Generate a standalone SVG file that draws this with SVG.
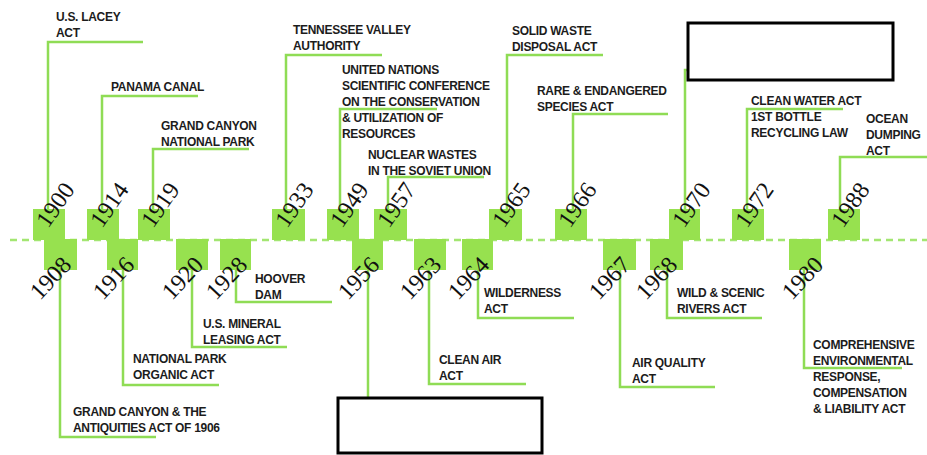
<svg xmlns="http://www.w3.org/2000/svg" width="927" height="455" viewBox="0 0 927 455">
<style>
.sq{fill:#97e14f}
.c{stroke:#8fdc55;stroke-width:2.5;fill:none}
.axis{stroke:#a3e672;stroke-width:2.5;stroke-dasharray:7 5;fill:none}
.yr{font-family:"Liberation Serif",serif;font-size:24px;fill:#111}
.lb{font-family:"Liberation Sans",Arial,sans-serif;font-size:12px;font-weight:bold;fill:#1c1c1c;letter-spacing:-0.3px}
.box{fill:#fff;stroke:#000;stroke-width:3}
</style>
<rect width="927" height="455" fill="#fff"/>
<line class="axis" x1="10" y1="240" x2="927" y2="240"/>
<g id="connectors">
<path class="c" d="M48 209V42H143"/>
<path class="c" d="M102 209V96H198"/>
<path class="c" d="M153 209V149H249"/>
<path class="c" d="M286 209V55H382"/>
<path class="c" d="M340 209V109H437"/>
<path class="c" d="M388 209V177H484"/>
<path class="c" d="M507 209V55H603"/>
<path class="c" d="M573 209V114H668"/>
<path class="c" d="M685 209V70H688"/>
<path class="c" d="M747 209V109H843"/>
<path class="c" d="M840 209V157H927"/>
<path class="c" d="M60 270V437H156"/>
<path class="c" d="M123 270V385H219"/>
<path class="c" d="M192 270V347H287"/>
<path class="c" d="M236 270V302H332"/>
<path class="c" d="M368 270V398"/>
<path class="c" d="M429 270V384H526"/>
<path class="c" d="M478 270V318H574"/>
<path class="c" d="M620 270V387H715"/>
<path class="c" d="M667 270V318H762"/>
<path class="c" d="M804 270V368H902"/>
</g>
<g id="n1900"><rect class="sq" x="33" y="209" width="32" height="31"/><text class="yr" transform="translate(48 229) rotate(-55)">1900</text><text class="lb" x="56" y="21">U.S. LACEY</text><text class="lb" x="56" y="37">ACT</text></g>
<g id="n1914"><rect class="sq" x="87" y="209" width="32" height="31"/><text class="yr" transform="translate(102 229) rotate(-55)">1914</text><text class="lb" x="111" y="91">PANAMA CANAL</text></g>
<g id="n1919"><rect class="sq" x="138" y="209" width="32" height="31"/><text class="yr" transform="translate(153 229) rotate(-55)">1919</text><text class="lb" x="161" y="130">GRAND CANYON</text><text class="lb" x="161" y="146">NATIONAL PARK</text></g>
<g id="n1933"><rect class="sq" x="272" y="209" width="33" height="31"/><text class="yr" transform="translate(287 229) rotate(-55)">1933</text><text class="lb" x="293" y="34">TENNESSEE VALLEY</text><text class="lb" x="293" y="50">AUTHORITY</text></g>
<g id="n1949"><rect class="sq" x="327" y="209" width="32" height="31"/><text class="yr" transform="translate(342 229) rotate(-55)">1949</text><text class="lb" x="342" y="74">UNITED NATIONS</text><text class="lb" x="342" y="90">SCIENTIFIC CONFERENCE</text><text class="lb" x="342" y="106">ON THE CONSERVATION</text><text class="lb" x="342" y="122">&amp; UTILIZATION OF</text><text class="lb" x="342" y="138">RESOURCES</text></g>
<g id="n1957"><rect class="sq" x="374" y="209" width="33" height="31"/><text class="yr" transform="translate(389 229) rotate(-55)">1957</text><text class="lb" x="368" y="159">NUCLEAR WASTES</text><text class="lb" x="368" y="175">IN THE SOVIET UNION</text></g>
<g id="n1965"><rect class="sq" x="489" y="209" width="33" height="31"/><text class="yr" transform="translate(504 229) rotate(-55)">1965</text><text class="lb" x="512" y="35">SOLID WASTE</text><text class="lb" x="512" y="51">DISPOSAL ACT</text></g>
<g id="n1966"><rect class="sq" x="555" y="209" width="32" height="31"/><text class="yr" transform="translate(570 229) rotate(-55)">1966</text><text class="lb" x="537" y="95">RARE &amp; ENDANGERED</text><text class="lb" x="537" y="111">SPECIES ACT</text></g>
<g id="n1970"><rect class="sq" x="669" y="209" width="31" height="31"/><text class="yr" transform="translate(684 229) rotate(-55)">1970</text><rect class="box" x="688" y="23" width="205" height="57"/></g>
<g id="n1972"><rect class="sq" x="732" y="209" width="32" height="31"/><text class="yr" transform="translate(747 229) rotate(-55)">1972</text><text class="lb" x="751" y="105">CLEAN WATER ACT</text><text class="lb" x="751" y="121">1ST BOTTLE</text><text class="lb" x="751" y="137">RECYCLING LAW</text></g>
<g id="n1988"><rect class="sq" x="828" y="209" width="32" height="31"/><text class="yr" transform="translate(843 229) rotate(-55)">1988</text><text class="lb" x="866" y="123">OCEAN</text><text class="lb" x="866" y="139">DUMPING</text><text class="lb" x="866" y="155">ACT</text></g>
<g id="n1908"><rect class="sq" x="44" y="239" width="33" height="31"/><text class="yr" transform="translate(40 301) rotate(-47)">1908</text><text class="lb" x="73" y="416">GRAND CANYON &amp; THE</text><text class="lb" x="73" y="432">ANTIQUITIES ACT OF 1906</text></g>
<g id="n1916"><rect class="sq" x="107" y="239" width="31" height="31"/><text class="yr" transform="translate(103 301) rotate(-47)">1916</text><text class="lb" x="133" y="363">NATIONAL PARK</text><text class="lb" x="133" y="379">ORGANIC ACT</text></g>
<g id="n1920"><rect class="sq" x="176" y="239" width="32" height="31"/><text class="yr" transform="translate(172 301) rotate(-47)">1920</text><text class="lb" x="203" y="328">U.S. MINERAL</text><text class="lb" x="203" y="344">LEASING ACT</text></g>
<g id="n1928"><rect class="sq" x="220" y="239" width="31" height="31"/><text class="yr" transform="translate(216 301) rotate(-47)">1928</text><text class="lb" x="255" y="283">HOOVER</text><text class="lb" x="255" y="299">DAM</text></g>
<g id="n1956"><rect class="sq" x="352" y="239" width="31" height="31"/><text class="yr" transform="translate(348 301) rotate(-47)">1956</text><rect class="box" x="338" y="398" width="204" height="55"/></g>
<g id="n1963"><rect class="sq" x="414" y="239" width="32" height="31"/><text class="yr" transform="translate(410 301) rotate(-47)">1963</text><text class="lb" x="439" y="364">CLEAN AIR</text><text class="lb" x="439" y="380">ACT</text></g>
<g id="n1964"><rect class="sq" x="462" y="239" width="31" height="31"/><text class="yr" transform="translate(458 301) rotate(-47)">1964</text><text class="lb" x="484" y="297">WILDERNESS</text><text class="lb" x="484" y="313">ACT</text></g>
<g id="n1967"><rect class="sq" x="603" y="239" width="33" height="31"/><text class="yr" transform="translate(599 301) rotate(-47)">1967</text><text class="lb" x="632" y="367">AIR QUALITY</text><text class="lb" x="632" y="383">ACT</text></g>
<g id="n1968"><rect class="sq" x="650" y="239" width="33" height="31"/><text class="yr" transform="translate(646 301) rotate(-47)">1968</text><text class="lb" x="677" y="297">WILD &amp; SCENIC</text><text class="lb" x="677" y="313">RIVERS ACT</text></g>
<g id="n1980"><rect class="sq" x="789" y="239" width="32" height="31"/><text class="yr" transform="translate(792 301) rotate(-47)">1980</text><text class="lb" x="813" y="349">COMPREHENSIVE</text><text class="lb" x="813" y="365">ENVIRONMENTAL</text><text class="lb" x="813" y="381">RESPONSE,</text><text class="lb" x="813" y="397">COMPENSATION</text><text class="lb" x="813" y="413">&amp; LIABILITY ACT</text></g>
</svg>
